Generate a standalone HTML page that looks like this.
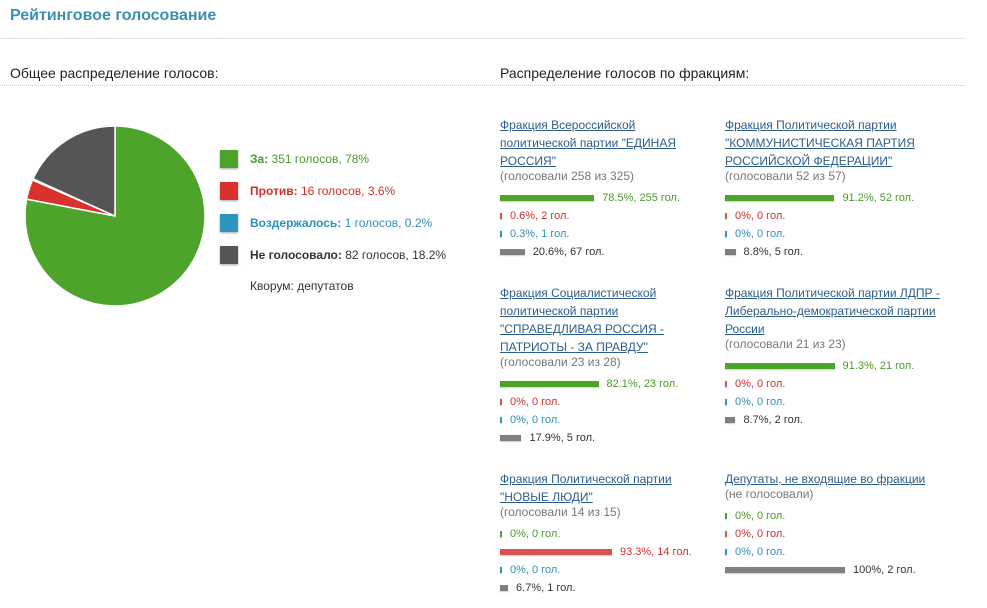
<!DOCTYPE html>
<html><head><meta charset="utf-8">
<style>
body{margin:0;width:987px;height:608px;background:#fff;font-family:"Liberation Sans","Noto Sans CJK SC",sans-serif;position:relative;overflow:hidden;color:#333}
.abs{position:absolute}
h1{position:absolute;left:10px;top:7px;margin:0;font-size:16px;font-weight:bold;color:#3b8fb3}
.hr{position:absolute;left:0;top:38px;width:965px;border-top:1px solid #e4e4e4}
.sub{position:absolute;top:65px;font-size:14px;color:#222}
.dot{position:absolute;top:85px;left:0;width:965px;border-top:1px dotted #ccc}
.leg{position:absolute;left:220px;font-size:12px;line-height:18px}
.sw{position:absolute;left:0;top:0;width:18px;height:18px;box-shadow:0 1px 2px rgba(0,0,0,.35)}
.lt{position:absolute;left:30px;top:0;white-space:nowrap}
.blk{position:absolute;width:225px;font-size:12px}
.blk a{display:block;color:#2d5e8a;text-decoration:underline;line-height:18px}
.gv{color:#777;line-height:14px;margin-top:-1px}
.rows{margin-top:6px}
.row{height:18px;position:relative;white-space:nowrap}
.bar{position:absolute;left:0;top:6px;height:6px;box-shadow:0 1px 1px rgba(0,0,0,.2)}
.rt{position:absolute;top:1px;line-height:16px;font-size:11px}
</style></head><body>
<h1>Рейтинговое голосование</h1>
<div class="hr"></div>
<div class="sub" style="left:10px">Общее распределение голосов:</div>
<div class="sub" style="left:500px">Распределение голосов по фракциям:</div>
<div class="dot"></div>
<svg id="pie" class="abs" style="left:0;top:100px" width="230" height="230"></svg>
<div id="legend"></div>
<div class="abs" style="left:250px;top:279px;font-size:12px">Кворум: депутатов</div>
<div id="factions"></div>
<script>
const pieLabels=["За:","Против:","Воздержалось:","Не голосовало:"];
const pieVotes=[351,16,1,82];
const piePct=["78%","3.6%","0.2%","18.2%"];
const pieColors=["#4ea42a","#d9322e","#2f95c0","#555555"];
const legText=["#4a9a2a","#d0302c","#2f8fb8","#333"];
const NS="http://www.w3.org/2000/svg";
const pie=document.getElementById('pie');
const cx=115,cy=116,R=90;
const tot=pieVotes.reduce((a,b)=>a+b,0);
let a0=0;
pieVotes.forEach((v,i)=>{
  const a1=a0+v/tot*2*Math.PI;
  const p=(a)=>[cx+R*Math.sin(a),cy-R*Math.cos(a)];
  const s=p(a0),e=p(a1);
  const path=document.createElementNS(NS,'path');
  path.setAttribute('d',`M${cx},${cy}L${s[0]},${s[1]}A${R},${R} 0 ${a1-a0>Math.PI?1:0} 1 ${e[0]},${e[1]}Z`);
  path.setAttribute('fill',pieColors[i]);
  path.setAttribute('stroke','#fff');
  path.setAttribute('stroke-width','1.5');
  
  
  pie.appendChild(path);
  a0=a1;
});
const leg=document.getElementById('legend');
pieLabels.forEach((l,i)=>{
  const d=document.createElement('div');
  d.className='leg';d.style.top=(150+i*32)+'px';
  
  
  d.innerHTML=`<div class="sw" style="background:${pieColors[i]}"></div><div class="lt" style="color:${legText[i]}"><b>${l}</b> ${pieVotes[i]} голосов, ${piePct[i]}</div>`;
  leg.appendChild(d);
});
const facNames=[
 'Фракция Всероссийской<br>политической партии "ЕДИНАЯ<br>РОССИЯ"',
 'Фракция Политической партии<br>"КОММУНИСТИЧЕСКАЯ ПАРТИЯ<br>РОССИЙСКОЙ ФЕДЕРАЦИИ"',
 'Фракция Социалистической<br>политической партии<br>"СПРАВЕДЛИВАЯ РОССИЯ -<br>ПАТРИОТЫ - ЗА ПРАВДУ"',
 'Фракция Политической партии ЛДПР -<br>Либерально-демократической партии<br>России',
 'Фракция Политической партии<br>"НОВЫЕ ЛЮДИ"',
 'Депутаты, не входящие во фракции'];
const facVoted=["(голосовали 258 из 325)","(голосовали 52 из 57)","(голосовали 23 из 28)","(голосовали 21 из 23)","(голосовали 14 из 15)","(не голосовали)"];
const facFor=[78.5,91.2,82.1,91.3,0,0];
const facForN=[255,52,23,21,0,0];
const facAgainst=[0.6,0,0,0,93.3,0];
const facAgainstN=[2,0,0,0,14,0];
const facAbst=[0.3,0,0,0,0,0];
const facAbstN=[1,0,0,0,0,0];
const facNot=[20.6,8.8,17.9,8.7,6.7,100];
const facNotN=[67,5,5,2,1,2];
const barCols=["#4ea42a","#d9534f","#3399bb","#808080"];
const txtCols=["#4a9a2a","#d0302c","#2f8fb8","#333"];
const pos=[[500,116],[725,116],[500,284],[725,284],[500,470],[725,470]];
const fac=document.getElementById('factions');
facNames.forEach((n,i)=>{
  const b=document.createElement('div');
  b.className='blk';b.style.left=pos[i][0]+'px';b.style.top=pos[i][1]+'px';
  
  
  let h=`<a href="#">${n}</a><div class="gv">${facVoted[i]}</div><div class="rows">`;
  const vals=[facFor[i],facAgainst[i],facAbst[i],facNot[i]];
  const ns=[facForN[i],facAgainstN[i],facAbstN[i],facNotN[i]];
  vals.forEach((v,k)=>{
    const w=Math.max(2,v/100*120);
    h+=`<div class="row"><div class="bar" style="width:${w}px;background:${barCols[k]}"></div><span class="rt" style="left:${w+8}px;color:${txtCols[k]}">${v}%, ${ns[k]} гол.</span></div>`;
  });
  b.innerHTML=h+'</div>';
  fac.appendChild(b);
});
</script>
</body></html>
